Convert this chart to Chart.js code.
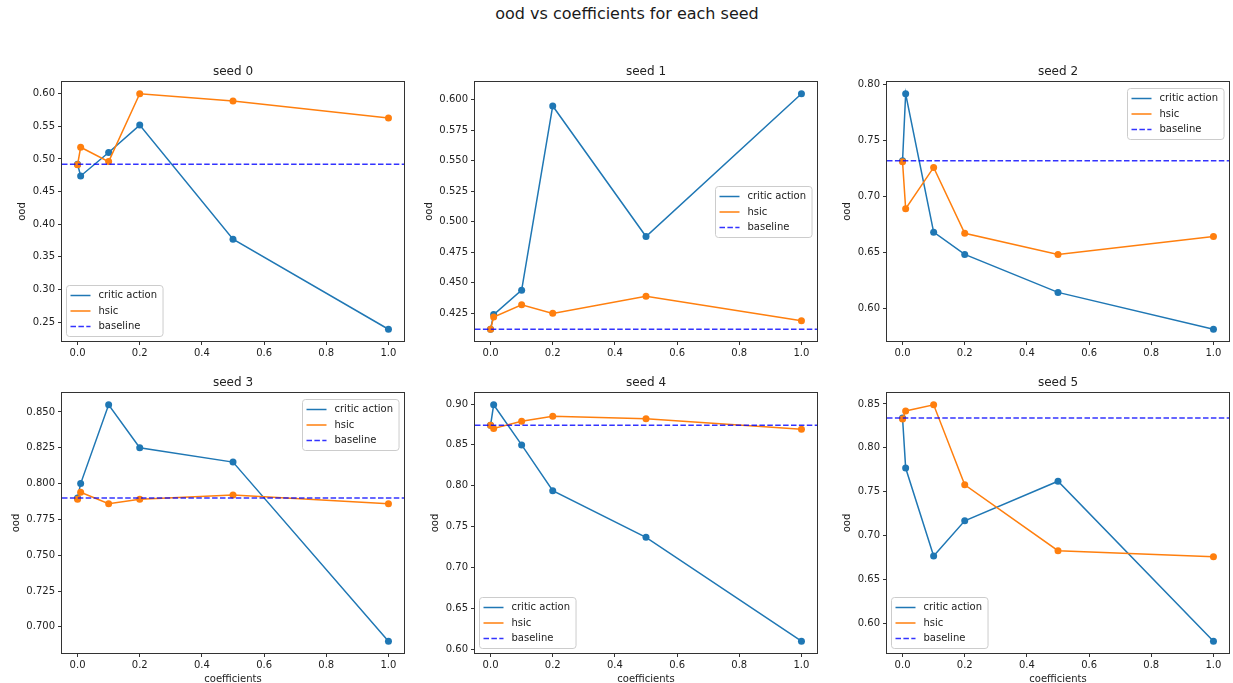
<!DOCTYPE html>
<html>
<head>
<meta charset="utf-8">
<title>ood vs coefficients for each seed</title>
<script src="https://cdn.jsdelivr.net/npm/chart.js@4.4.0/dist/chart.umd.min.js"></script>
<style>
    body {
        margin: 0;
        width: 1233px;
        height: 683px;
        overflow: hidden;
        position: relative;
        background: #fff;
        font-family: "DejaVu Sans", sans-serif;
    }
    #suptitle {
        position: absolute;
        left: 427px;
        width: 400px;
        top: 4px;
        line-height: 20px;
        text-align: center;
        font-size: 16px;
        color: #1a1a1a;
    }
    .panel { position: absolute; }
</style>
</head>
<body>
<div id="suptitle">ood vs coefficients for each seed</div>

<script>
// Data
const coefficients = [0, 0.01, 0.1, 0.2, 0.5, 1.0];
const seedTitles = ['seed 0', 'seed 1', 'seed 2', 'seed 3', 'seed 4', 'seed 5'];
const baseline = [0.492, 0.412, 0.732, 0.790, 0.874, 0.834];

const criticAction = [
    [0.492, 0.474, 0.510, 0.552, 0.377, 0.239],
    [0.412, 0.424, 0.444, 0.595, 0.488, 0.605],
    [0.732, 0.792, 0.668, 0.648, 0.614, 0.581],
    [0.790, 0.800, 0.855, 0.825, 0.815, 0.690],
    [0.874, 0.899, 0.850, 0.794, 0.737, 0.610],
    [0.834, 0.777, 0.677, 0.717, 0.762, 0.580]
];
const hsic = [
    [0.491, 0.518, 0.496, 0.600, 0.589, 0.563],
    [0.412, 0.422, 0.432, 0.425, 0.439, 0.419],
    [0.731, 0.689, 0.726, 0.667, 0.648, 0.664],
    [0.789, 0.794, 0.786, 0.789, 0.792, 0.786],
    [0.874, 0.870, 0.879, 0.885, 0.882, 0.869],
    [0.833, 0.842, 0.849, 0.758, 0.683, 0.676]
];

const xTickLabels = ['0.0', '0.2', '0.4', '0.6', '0.8', '1.0'];
const yTickLabels = [
    ['0.25', '0.30', '0.35', '0.40', '0.45', '0.50', '0.55', '0.60'],
    ['0.425', '0.450', '0.475', '0.500', '0.525', '0.550', '0.575', '0.600'],
    ['0.60', '0.65', '0.70', '0.75', '0.80'],
    ['0.700', '0.725', '0.750', '0.775', '0.800', '0.825', '0.850'],
    ['0.60', '0.65', '0.70', '0.75', '0.80', '0.85', '0.90'],
    ['0.60', '0.65', '0.70', '0.75', '0.80', '0.85']
];
const seriesLabels = ['critic action', 'hsic', 'baseline'];

// layout of the 2x3 grid (pixels)
const axesLeft = [62, 475, 887];
const axesTop = [82, 393];
const axesHeight = [259, 260];
const axesWidth = 343;
const legendLoc = ['lower left', 'center right', 'upper right', 'upper right', 'lower left', 'lower left'];

const FONT = '"DejaVu Sans", sans-serif';
const TEXT = '#222';
const AXIS = '#333';

// matplotlib-like autoscale: 5% margins
function paddedRange(values) {
    const lo = Math.min(...values), hi = Math.max(...values);
    const m = (hi - lo) * 0.05;
    return [lo - m, hi + m];
}

function drawLegend(chart, loc) {
    const ctx = chart.ctx, a = chart.chartArea;
    ctx.save();
    ctx.font = '10px ' + FONT;
    const textW = Math.max(...seriesLabels.map(t => ctx.measureText(t).width));
    const w = 4 + 20 + 8 + textW + 6, h = 51;
    let x, y;
    if (loc === 'lower left') {
        x = a.left + 4; y = a.bottom - 5 - h;
    } else if (loc === 'center right') {
        x = a.right - 5 - w; y = (a.top + a.bottom) / 2 - h / 2;
    } else {
        x = a.right - 5 - w; y = a.top + 6;
    }
    x = Math.round(x) + 0.5; y = Math.round(y) + 0.5;
    ctx.beginPath();
    ctx.roundRect(x, y, w, h, 3);
    ctx.fillStyle = 'rgba(255,255,255,0.8)';
    ctx.fill();
    ctx.strokeStyle = '#cccccc';
    ctx.lineWidth = 1;
    ctx.stroke();

    chart.data.datasets.forEach((ds, i) => {
        const cy = y + 10 + i * 15.5;
        ctx.beginPath();
        ctx.setLineDash(ds.borderDash || []);
        ctx.strokeStyle = ds.borderColor;
        ctx.lineWidth = ds.borderWidth;
        ctx.moveTo(x + 4, cy);
        ctx.lineTo(x + 24, cy);
        ctx.stroke();
        ctx.setLineDash([]);
        ctx.fillStyle = TEXT;
        ctx.textAlign = 'left';
        ctx.textBaseline = 'middle';
        ctx.fillText(ds.label, x + 32, cy);
    });
    ctx.restore();
}

const decorations = {
    id: 'decorations',
    afterDraw(chart, args, opts) {
        const ctx = chart.ctx, a = chart.chartArea;
        ctx.save();
        // axes frame
        ctx.strokeStyle = AXIS;
        ctx.lineWidth = 1;
        ctx.strokeRect(Math.round(a.left) - 0.5, Math.round(a.top) - 0.5,
            Math.round(a.right - a.left) + 1, Math.round(a.bottom - a.top) + 1);

        drawLegend(chart, opts.loc);

        ctx.fillStyle = TEXT;
        ctx.textAlign = 'center';
        ctx.textBaseline = 'middle';
        // subplot title
        ctx.font = '12px ' + FONT;
        ctx.fillText(opts.title, (a.left + a.right) / 2, a.top - 10);

        // y label, left of the tick labels
        ctx.font = '10px ' + FONT;
        const tickW = Math.max(...chart.scales.y.ticks.map(t => ctx.measureText(t.label).width));
        ctx.save();
        ctx.translate(a.left - 7 - tickW - 10, (a.top + a.bottom) / 2);
        ctx.rotate(-Math.PI / 2);
        ctx.fillText('ood', 0, 0);
        ctx.restore();

        if (opts.xlabel) {
            ctx.fillText('coefficients', (a.left + a.right) / 2, a.bottom + 26);
        }
        ctx.restore();
    }
};

function makePanel(i) {
    const col = i % 3, row = Math.floor(i / 3);
    const padTop = 30, yAxisW = 62, padRight = 3;
    const bottomRoom = row === 0 ? 22 : 30;
    const cw = yAxisW + axesWidth + padRight;
    const ch = padTop + axesHeight[row] + bottomRoom;

    const div = document.createElement('div');
    div.className = 'panel';
    div.style.left = (axesLeft[col] - yAxisW) + 'px';
    div.style.top = (axesTop[row] - padTop) + 'px';
    const canvas = document.createElement('canvas');
    canvas.width = cw; canvas.height = ch;
    canvas.style.width = cw + 'px'; canvas.style.height = ch + 'px';
    div.appendChild(canvas);
    document.body.appendChild(div);

    const [xMin, xMax] = paddedRange(coefficients);
    const [yMin, yMax] = paddedRange([...criticAction[i], ...hsic[i], baseline[i]]);
    const yLabels = yTickLabels[i];
    const toPoints = arr => coefficients.map((c, k) => ({ x: c, y: arr[k] }));
    const tickFont = { family: FONT, size: 10 };
    const gridOpts = { display: true, drawOnChartArea: false, drawTicks: true, tickLength: 4, color: AXIS, lineWidth: 1 };

    new Chart(canvas, {
        type: 'scatter',
        data: {
            datasets: [{
                label: seriesLabels[0],
                data: toPoints(criticAction[i]),
                showLine: true,
                borderColor: '#1f77b4',
                backgroundColor: '#1f77b4',
                borderWidth: 1.5,
                pointRadius: 3.5,
                pointBorderWidth: 0,
                order: 3
            }, {
                label: seriesLabels[1],
                data: toPoints(hsic[i]),
                showLine: true,
                borderColor: '#ff7f0e',
                backgroundColor: '#ff7f0e',
                borderWidth: 1.5,
                pointRadius: 3.5,
                pointBorderWidth: 0,
                order: 2
            }, {
                label: seriesLabels[2],
                data: [{ x: xMin, y: baseline[i] }, { x: xMax, y: baseline[i] }],
                showLine: true,
                borderColor: 'rgba(0,0,255,0.8)',
                borderDash: [5.5, 2.4],
                borderWidth: 1.5,
                pointRadius: 0,
                order: 1
            }]
        },
        options: {
            responsive: false,
            animation: false,
            devicePixelRatio: 1,
            events: [],
            layout: { padding: { top: padTop, left: 0, right: padRight, bottom: 0 } },
            plugins: {
                legend: { display: false },
                tooltip: { enabled: false },
                decorations: { title: seedTitles[i], loc: legendLoc[i], xlabel: row === 1 }
            },
            scales: {
                x: {
                    type: 'linear',
                    min: xMin,
                    max: xMax,
                    grid: gridOpts,
                    border: { display: false },
                    ticks: {
                        padding: 2,
                        font: tickFont,
                        color: TEXT,
                        maxRotation: 0,
                        autoSkip: false,
                        callback: (v, idx) => xTickLabels[idx]
                    },
                    afterBuildTicks: s => { s.ticks = xTickLabels.map(t => ({ value: parseFloat(t) })); },
                    afterFit: s => { s.height = bottomRoom; }
                },
                y: {
                    type: 'linear',
                    min: yMin,
                    max: yMax,
                    grid: gridOpts,
                    border: { display: false },
                    ticks: {
                        padding: 3,
                        font: tickFont,
                        color: TEXT,
                        autoSkip: false,
                        callback: (v, idx) => yLabels[idx]
                    },
                    afterBuildTicks: s => { s.ticks = yLabels.map(t => ({ value: parseFloat(t) })); },
                    afterFit: s => { s.width = yAxisW; }
                }
            }
        },
        plugins: [decorations]
    });
}

for (let i = 0; i < seedTitles.length; i++) {
    makePanel(i);
}
</script>
</body>
</html>
